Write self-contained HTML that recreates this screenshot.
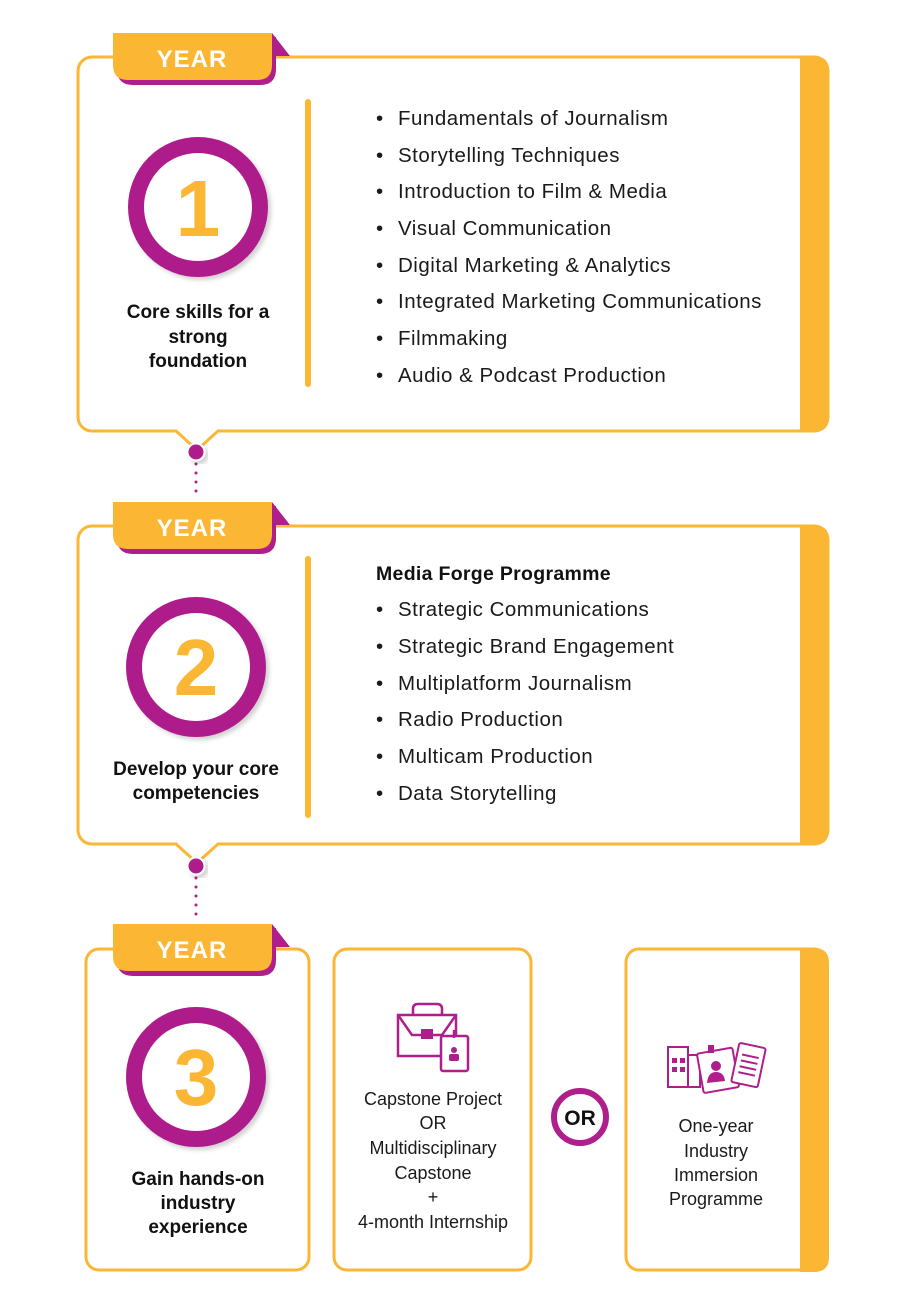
<!DOCTYPE html>
<html><head><meta charset="utf-8"><style>
html,body{margin:0;padding:0;background:#fff;}
svg{display:block;font-family:"Liberation Sans",sans-serif;}
.b{font-size:20.5px;fill:#1a1a1a;letter-spacing:0.5px;}
.h{font-size:19px;font-weight:bold;fill:#111;text-anchor:middle;}
.s{font-size:18px;fill:#1a1a1a;text-anchor:middle;}
.y{font-size:24px;font-weight:bold;fill:#fff;text-anchor:middle;letter-spacing:1px;}
.n{font-size:80px;font-weight:bold;fill:#FBB634;text-anchor:middle;}
</style></head><body>
<svg width="900" height="1307" viewBox="0 0 900 1307">
<defs>
<filter id="sh" x="-20%" y="-20%" width="140%" height="140%"><feDropShadow dx="3" dy="3" stdDeviation="2" flood-color="#000" flood-opacity="0.18"/></filter>
<g id="tab">
<path d="M159,0 L177,23 L159,23 Z" fill="#AE1F8C"/>
<path d="M4,4 H163 V36 Q163,52 147,52 H20 Q4,52 4,36 Z" fill="#AE1F8C"/>
<path d="M0,0 H159 V32 Q159,47 144,47 H15 Q0,47 0,32 Z" fill="#FBB634"/>
</g>
</defs>
<g fill="none" stroke="#FBB634" stroke-width="3">
<path d="M92,57 H814 A14 14 0 0 1 828 71 V417 A14 14 0 0 1 814 431 H218 L197 450 L176 431 H92 A14 14 0 0 1 78 417 V71 A14 14 0 0 1 92 57 Z"/>
<path d="M92,526 H814 A14 14 0 0 1 828 540 V830 A14 14 0 0 1 814 844 H218 L197 863 L176 844 H92 A14 14 0 0 1 78 830 V540 A14 14 0 0 1 92 526 Z"/>
<rect x="86" y="949" width="223" height="321" rx="13"/>
<rect x="334" y="949" width="197" height="321" rx="13"/>
<rect x="626" y="949" width="201" height="321" rx="13"/>
</g>
<g fill="#FBB634">
<path d="M800,56 H814 Q829,56 829,71 V417 Q829,432 814,432 H800 Z"/>
<path d="M800,525 H814 Q829,525 829,540 V830 Q829,845 814,845 H800 Z"/>
<path d="M800,948 H814 Q829,948 829,963 V1257 Q829,1272 814,1272 H800 Z"/>
<rect x="305" y="99" width="6" height="288" rx="3"/>
<rect x="305" y="556" width="6" height="262" rx="3"/>
</g>
<g stroke="#AE1F8C" stroke-width="3" stroke-linecap="round" stroke-dasharray="0 9">
<line x1="196" y1="464" x2="196" y2="500"/>
<line x1="196" y1="878" x2="196" y2="922"/>
</g>
<circle cx="196" cy="452" r="8.5" fill="#AE1F8C" stroke="#fff" stroke-width="2" filter="url(#sh)"/>
<circle cx="196" cy="866" r="8.5" fill="#AE1F8C" stroke="#fff" stroke-width="2" filter="url(#sh)"/>
<use href="#tab" x="113" y="33"/><text class="y" x="192" y="67">YEAR</text>
<use href="#tab" x="113" y="502"/><text class="y" x="192" y="536">YEAR</text>
<use href="#tab" x="113" y="924"/><text class="y" x="192" y="958">YEAR</text>
<g fill="#fff" stroke="#AE1F8C" stroke-width="16" filter="url(#sh)">
<circle cx="198" cy="207" r="62"/>
<circle cx="196" cy="667" r="62"/>
<circle cx="196" cy="1077" r="62"/>
</g>
<text class="n" x="198" y="236">1</text>
<text class="n" x="196" y="695">2</text>
<text class="n" x="196" y="1105">3</text>
<text class="h" x="198" y="318">Core skills for a</text>
<text class="h" x="198" y="343">strong</text>
<text class="h" x="198" y="367">foundation</text>
<text class="h" x="196" y="775">Develop your core</text>
<text class="h" x="196" y="799">competencies</text>
<text class="h" x="198" y="1185">Gain hands-on</text>
<text class="h" x="198" y="1209">industry</text>
<text class="h" x="198" y="1233">experience</text>
<g class="b">
<text x="376" y="125">•</text><text x="398" y="125">Fundamentals of Journalism</text>
<text x="376" y="162">•</text><text x="398" y="162">Storytelling Techniques</text>
<text x="376" y="198">•</text><text x="398" y="198">Introduction to Film &amp; Media</text>
<text x="376" y="235">•</text><text x="398" y="235">Visual Communication</text>
<text x="376" y="272">•</text><text x="398" y="272">Digital Marketing &amp; Analytics</text>
<text x="376" y="308">•</text><text x="398" y="308">Integrated Marketing Communications</text>
<text x="376" y="345">•</text><text x="398" y="345">Filmmaking</text>
<text x="376" y="382">•</text><text x="398" y="382">Audio &amp; Podcast Production</text>
<text x="376" y="580" font-weight="bold" fill="#111" style="font-size:19.5px;letter-spacing:0.3px">Media Forge Programme</text>
<text x="376" y="616">•</text><text x="398" y="616">Strategic Communications</text>
<text x="376" y="653">•</text><text x="398" y="653">Strategic Brand Engagement</text>
<text x="376" y="690">•</text><text x="398" y="690">Multiplatform Journalism</text>
<text x="376" y="726">•</text><text x="398" y="726">Radio Production</text>
<text x="376" y="763">•</text><text x="398" y="763">Multicam Production</text>
<text x="376" y="800">•</text><text x="398" y="800">Data Storytelling</text>
</g>
<g fill="none" stroke="#AE1F8C" stroke-width="2.5">
<rect x="398" y="1015" width="58" height="41"/>
<path d="M413,1015 V1009 Q413,1004 418,1004 H437 Q442,1004 442,1009 V1015"/>
<path d="M398,1015 L412,1035 H442 L456,1015"/>
<rect x="441" y="1036" width="27" height="35" rx="2" fill="#fff"/>
<line x1="454" y1="1030" x2="454" y2="1038"/>
</g>
<rect x="421" y="1029" width="12" height="10" fill="#AE1F8C"/>
<circle cx="454" cy="1050" r="3" fill="#AE1F8C"/><rect x="449" y="1054" width="10" height="7" rx="2" fill="#AE1F8C"/>
<g class="s">
<text x="433" y="1105">Capstone Project</text>
<text x="433" y="1129">OR</text>
<text x="433" y="1154">Multidisciplinary</text>
<text x="433" y="1179">Capstone</text>
<text x="433" y="1203">+</text>
<text x="433" y="1228">4-month Internship</text>
<text x="716" y="1132">One-year</text>
<text x="716" y="1157">Industry</text>
<text x="716" y="1181">Immersion</text>
<text x="716" y="1205">Programme</text>
</g>
<circle cx="580" cy="1117" r="26" fill="#fff" stroke="#AE1F8C" stroke-width="6"/>
<text x="580" y="1125" font-size="21" font-weight="bold" fill="#111" text-anchor="middle">OR</text>
<g fill="none" stroke="#AE1F8C" stroke-width="2">
<rect x="668" y="1047" width="20" height="40"/>
<rect x="688" y="1055" width="12" height="32"/>
<g transform="rotate(-10 720 1070)"><rect x="700" y="1050" width="36" height="40" rx="2" fill="#fff"/></g>
<g transform="rotate(12 748 1065)"><rect x="735" y="1045" width="27" height="40" rx="2" fill="#fff"/>
<line x1="740" y1="1056" x2="757" y2="1056"/><line x1="740" y1="1062" x2="757" y2="1062"/><line x1="740" y1="1068" x2="757" y2="1068"/><line x1="740" y1="1074" x2="757" y2="1074"/></g>
</g>
<g fill="#AE1F8C">
<rect x="672" y="1058" width="5" height="5"/><rect x="680" y="1058" width="5" height="5"/>
<rect x="672" y="1067" width="5" height="5"/><rect x="680" y="1067" width="5" height="5"/>
<circle cx="716" cy="1066" r="5"/><path d="M707,1083 Q708,1072 716,1072 Q724,1072 725,1081 Z"/>
<rect x="708" y="1045" width="6" height="8"/>
</g>
</svg>
</body></html>
